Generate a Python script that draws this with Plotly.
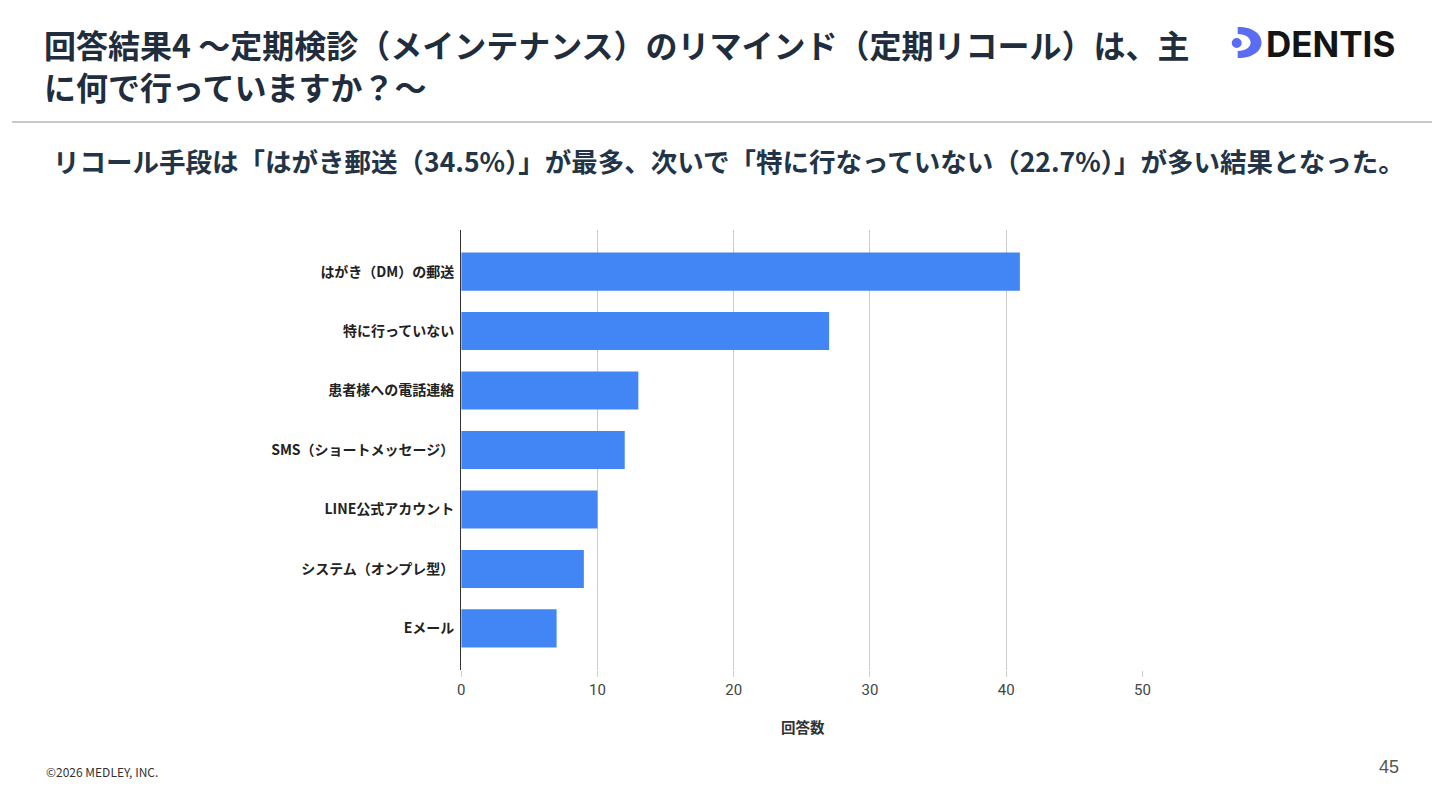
# pip install plotly

import plotly.graph_objects as go

# --------------------------------
# Data
# --------------------------------
CATEGORIES = [
    "はがき（DM）の郵送",
    "特に行っていない",
    "患者様への電話連絡",
    "SMS（ショートメッセージ）",
    "LINE公式アカウント",
    "システム（オンプレ型）",
    "Eメール",
]
COUNTS = [41, 27, 13, 12, 10, 9, 7]
X_TICKS = [0, 10, 20, 30, 40, 50]

TITLE_LINES = [
    "回答結果4 〜定期検診（メインテナンス）のリマインド（定期リコール）は、主",
    "に何で行っていますか？〜",
]
SUBTITLE = "リコール手段は「はがき郵送（34.5%）」が最多、次いで「特に行なっていない（22.7%）」が多い結果となった。"
X_TITLE = "回答数"
FOOTER = "©2026 MEDLEY, INC."
PAGE_NO = "45"

# --------------------------------
# Config
# --------------------------------
W, H = 1440, 810
OFF = 8                # default body margin of the html page
JP = "Noto Sans CJK JP"
NAVY = "#1f2d3d"
BAR_BLUE = "#4285f4"
LOGO_BLUE = "#5a6cf2"
PLOT_X = (461, 1148)   # pixel extent of the plot area on the page
PLOT_Y = (230, 670)


def px(x):
    return (x - OFF) / W


def py(y):
    return 1 - (y - OFF) / H


def path_from(points):
    """points: list of (cmd, [(x, y), ...]) in page pixels -> paper path string."""
    out = []
    for cmd, pts in points:
        coords = " ".join(f"{px(x):.5f},{py(y):.5f}" for x, y in pts)
        out.append(f"{cmd} {coords}".strip())
    return " ".join(out)


def text_at(fig, x, y, text, size, color, family=JP, weight="normal", xanchor="left"):
    fig.add_annotation(
        x=px(x), y=py(y), xref="paper", yref="paper",
        xanchor=xanchor, yanchor="middle", align="left",
        text=text, showarrow=False, borderpad=0,
        font=dict(family=family, size=size, color=color, weight=weight),
    )


fig = go.Figure()

fig.add_trace(
    go.Bar(
        x=COUNTS,
        y=CATEGORIES,
        orientation="h",
        marker=dict(color=BAR_BLUE, line=dict(width=0)),
        width=0.64,
        hovertemplate="%{y}: %{x}<extra></extra>",
    )
)

fig.update_layout(
    width=W,
    height=H,
    margin=dict(l=0, r=0, t=0, b=0),
    paper_bgcolor="white",
    plot_bgcolor="white",
    showlegend=False,
    font=dict(family=JP, color=NAVY),
    xaxis=dict(
        domain=[px(PLOT_X[0]), px(PLOT_X[1])],
        range=[0, 50],
        tickvals=X_TICKS,
        showgrid=True,
        gridcolor="#cccccc",
        gridwidth=1,
        zeroline=False,
        ticks="outside",
        ticklen=6,
        tickcolor="#cccccc",
        tickfont=dict(family="Roboto", size=15, color="#444444"),
        showline=False,
        fixedrange=True,
    ),
    yaxis=dict(
        domain=[py(PLOT_Y[1]), py(PLOT_Y[0])],
        range=[6.7, -0.7],
        showgrid=False,
        zeroline=False,
        showline=True,
        linecolor="#333333",
        linewidth=1.2,
        ticks="",
        ticklabelstandoff=3,
        tickfont=dict(family=JP, size=14, color="#222222", weight="bold"),
        fixedrange=True,
    ),
)

# header title (one block, two lines like the slide)
text_at(fig, 39, 65.5, "<br>".join(TITLE_LINES), 32, NAVY, weight="bold")

# header rule
fig.add_shape(
    type="line", xref="paper", yref="paper",
    x0=0, x1=1, y0=py(122), y1=py(122),
    line=dict(color="#c9c9c9", width=2),
)

# subtitle
text_at(fig, 731, 160, SUBTITLE, 26.5, "#243447", weight="bold", xanchor="center")

# x axis title
text_at(fig, 806, 726, X_TITLE, 14.5, "#333333", weight="bold", xanchor="center")

# footer + page number
text_at(fig, 41, 771, FOOTER, 12, "#333333")
text_at(fig, 1408, 767, PAGE_NO, 18, "#555555", family="Liberation Sans", xanchor="right")

# DENTIS logo: dot + crescent + wordmark
fig.add_shape(
    type="circle", xref="paper", yref="paper",
    x0=px(1238), x1=px(1248), y0=py(48), y1=py(38),
    fillcolor=LOGO_BLUE, line=dict(width=0),
)
crescent = path_from([
    ("M", [(1244, 27)]),
    ("C", [(1261, 27), (1268, 35), (1268, 42.5)]),
    ("C", [(1268, 50), (1261, 58), (1244, 58)]),
    ("L", [(1244, 51)]),
    ("C", [(1252, 51), (1257, 47), (1257, 42.5)]),
    ("C", [(1257, 38), (1252, 34), (1244, 34)]),
]) + " Z"
fig.add_shape(
    type="path", xref="paper", yref="paper", path=crescent,
    fillcolor=LOGO_BLUE, line=dict(width=0),
)
text_at(fig, 1272, 44, "DENTIS", 35, "#141414", family="Inter", weight="bold")

fig.write_html("out.html")
